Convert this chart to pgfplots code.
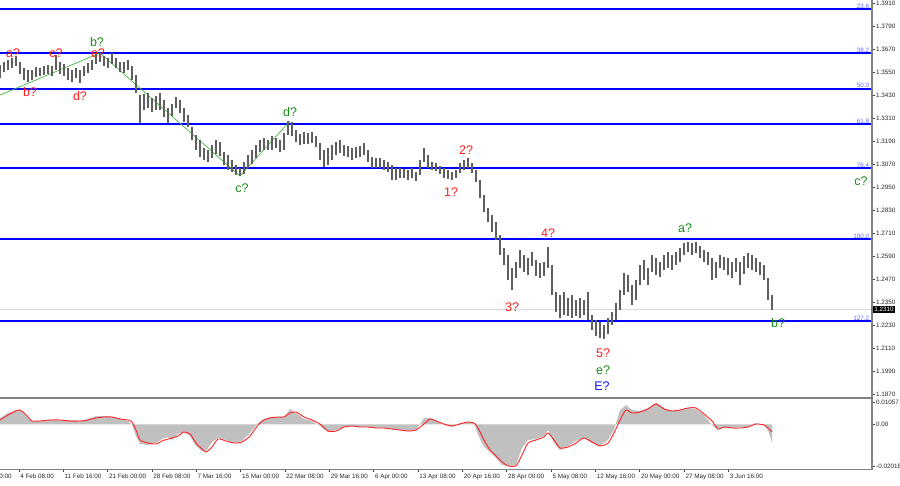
\documentclass[border=0pt]{standalone}
\usepackage{pgfplots}
\usepackage{pgfplotstable}
\pgfplotsset{compat=1.18}
\usepackage{fontspec}
\setmainfont{Liberation Sans}
\definecolor{barcol}{RGB}{95,95,95}
\definecolor{fibblue}{RGB}{0,0,255}
\definecolor{fibtxt}{RGB}{100,100,255}
\definecolor{wred}{RGB}{255,30,30}
\definecolor{wgreen}{RGB}{25,140,25}
\definecolor{wblue}{RGB}{20,20,255}
\definecolor{zig}{RGB}{70,180,70}
\definecolor{histgray}{RGB}{192,192,192}
\definecolor{sigred}{RGB}{255,35,35}
\definecolor{framec}{RGB}{130,130,130}
\newcommand{\tk}{\fontsize{6.3}{7}\selectfont}
\newcommand{\wl}{\fontsize{12.5}{13}\selectfont}

\pgfplotstableread{
x hi lo
0 1.3586 1.3518
4 1.3602 1.3549
8 1.3612 1.3560
12 1.3622 1.3570
16 1.3633 1.3581
20 1.3602 1.3539
24 1.3570 1.3508
28 1.3560 1.3497
32 1.3560 1.3508
36 1.3575 1.3523
40 1.3570 1.3529
44 1.3581 1.3534
48 1.3586 1.3539
52 1.3581 1.3529
56 1.3638 1.3560
60 1.3602 1.3539
64 1.3591 1.3529
68 1.3570 1.3508
72 1.3560 1.3497
76 1.3570 1.3518
80 1.3560 1.3492
84 1.3581 1.3529
88 1.3596 1.3544
92 1.3612 1.3560
96 1.3649 1.3591
100 1.3649 1.3602
104 1.3633 1.3581
108 1.3622 1.3570
112 1.3649 1.3591
116 1.3622 1.3570
120 1.3602 1.3549
124 1.3602 1.3544
128 1.3612 1.3560
132 1.3581 1.3508
136 1.3534 1.3440
140 1.3429 1.3283
144 1.3435 1.3351
148 1.3440 1.3362
152 1.3414 1.3341
156 1.3424 1.3351
160 1.3440 1.3351
164 1.3403 1.3315
168 1.3362 1.3283
172 1.3383 1.3320
176 1.3419 1.3362
180 1.3403 1.3336
184 1.3362 1.3289
188 1.3325 1.3262
192 1.3262 1.3195
196 1.3221 1.3143
200 1.3195 1.3106
204 1.3153 1.3090
208 1.3143 1.3080
212 1.3169 1.3101
216 1.3195 1.3122
220 1.3184 1.3111
224 1.3132 1.3064
228 1.3116 1.3038
232 1.3090 1.3028
236 1.3064 1.3012
240 1.3049 1.3007
244 1.3080 1.3018
248 1.3116 1.3049
252 1.3143 1.3070
256 1.3169 1.3101
260 1.3195 1.3132
264 1.3205 1.3143
268 1.3195 1.3143
272 1.3216 1.3143
276 1.3205 1.3153
280 1.3195 1.3132
284 1.3231 1.3143
288 1.3294 1.3221
292 1.3289 1.3216
296 1.3247 1.3184
300 1.3226 1.3169
304 1.3236 1.3174
308 1.3231 1.3174
312 1.3236 1.3179
316 1.3216 1.3158
320 1.3179 1.3090
324 1.3143 1.3054
328 1.3153 1.3064
332 1.3169 1.3090
336 1.3184 1.3116
340 1.3195 1.3127
344 1.3169 1.3111
348 1.3163 1.3106
352 1.3153 1.3090
356 1.3158 1.3101
360 1.3163 1.3106
364 1.3179 1.3116
368 1.3143 1.3080
372 1.3106 1.3049
376 1.3101 1.3049
380 1.3101 1.3049
384 1.3090 1.3038
388 1.3080 1.3028
392 1.3064 1.2986
396 1.3049 1.2986
400 1.3049 1.2996
404 1.3043 1.2996
408 1.3038 1.2986
412 1.3049 1.2996
416 1.3028 1.2981
420 1.3090 1.3012
424 1.3153 1.3080
428 1.3116 1.3049
432 1.3080 1.3038
436 1.3075 1.3033
440 1.3059 1.3018
444 1.3049 1.2996
448 1.3038 1.2991
452 1.3028 1.2986
456 1.3038 1.2996
460 1.3075 1.3023
464 1.3090 1.3038
468 1.3101 1.3049
472 1.3075 1.3023
476 1.3038 1.2976
480 1.2986 1.2892
484 1.2908 1.2819
488 1.2840 1.2767
492 1.2803 1.2715
496 1.2767 1.2673
500 1.2699 1.2595
504 1.2631 1.2543
508 1.2595 1.2464
512 1.2527 1.2412
516 1.2558 1.2475
520 1.2621 1.2527
524 1.2595 1.2506
528 1.2579 1.2490
532 1.2610 1.2537
536 1.2569 1.2485
540 1.2553 1.2475
544 1.2558 1.2485
548 1.2637 1.2527
552 1.2543 1.2386
556 1.2402 1.2297
560 1.2386 1.2266
564 1.2402 1.2282
568 1.2370 1.2277
572 1.2386 1.2266
576 1.2360 1.2277
580 1.2370 1.2266
584 1.2360 1.2282
588 1.2402 1.2256
592 1.2282 1.2204
596 1.2256 1.2172
600 1.2245 1.2162
604 1.2230 1.2157
608 1.2266 1.2183
612 1.2297 1.2230
616 1.2344 1.2256
620 1.2412 1.2308
624 1.2501 1.2386
628 1.2490 1.2402
632 1.2438 1.2334
636 1.2464 1.2360
640 1.2543 1.2438
644 1.2569 1.2464
648 1.2527 1.2438
652 1.2595 1.2506
656 1.2579 1.2490
660 1.2558 1.2480
664 1.2595 1.2517
668 1.2610 1.2527
672 1.2595 1.2517
676 1.2610 1.2543
680 1.2631 1.2558
684 1.2657 1.2595
688 1.2663 1.2610
692 1.2657 1.2595
696 1.2663 1.2605
700 1.2642 1.2579
704 1.2621 1.2558
708 1.2610 1.2543
712 1.2579 1.2464
716 1.2558 1.2475
720 1.2595 1.2527
724 1.2584 1.2517
728 1.2579 1.2490
732 1.2558 1.2475
736 1.2579 1.2506
740 1.2558 1.2438
744 1.2590 1.2496
748 1.2605 1.2527
752 1.2595 1.2517
756 1.2579 1.2506
760 1.2558 1.2490
764 1.2543 1.2464
768 1.2475 1.2360
772 1.2386 1.2308
}\pricetab

\pgfplotstableread{
x h s
0 0.00309 0.00212
8 0.00550 0.00454
16 0.00695 0.00647
20 0.00695 0.00695
24 0.00502 0.00550
28 0.00309 0.00357
32 0.00164 0.00164
40 0.00164 0.00164
50 0.00212 0.00212
60 0.00212 0.00212
70 0.00212 0.00164
80 0.00164 0.00164
88 0.00261 0.00212
96 0.00405 0.00309
104 0.00405 0.00357
112 0.00357 0.00357
120 0.00261 0.00261
128 0.00164 0.00212
132 -0.00029 0.00116
136 -0.00560 -0.00270
140 -0.00946 -0.00753
148 -0.00994 -0.00898
156 -0.00898 -0.00946
162 -0.00705 -0.00801
168 -0.00608 -0.00705
172 -0.00753 -0.00656
178 -0.00463 -0.00560
184 -0.00367 -0.00367
190 -0.00560 -0.00463
196 -0.01043 -0.00898
202 -0.01284 -0.01187
206 -0.01284 -0.01332
212 -0.00850 -0.01091
218 -0.00656 -0.00705
226 -0.00753 -0.00801
234 -0.00898 -0.00898
242 -0.00801 -0.00850
250 -0.00415 -0.00560
258 0.00068 -0.00029
264 0.00261 0.00212
270 0.00357 0.00309
278 0.00357 0.00357
284 0.00357 0.00357
290 0.00743 0.00550
296 0.00550 0.00599
304 0.00261 0.00357
312 0.00164 0.00212
320 -0.00077 0.00019
328 -0.00367 -0.00319
336 -0.00270 -0.00319
344 -0.00126 -0.00126
352 -0.00077 -0.00077
360 -0.00126 -0.00126
368 -0.00126 -0.00126
376 -0.00174 -0.00174
384 -0.00174 -0.00174
392 -0.00222 -0.00222
400 -0.00270 -0.00270
408 -0.00319 -0.00319
416 -0.00270 -0.00270
424 0.00309 0.00019
430 0.00309 0.00261
436 0.00212 0.00164
444 -0.00029 0.00019
452 -0.00126 -0.00077
460 0.00068 0.00019
468 0.00116 0.00116
474 0.00068 0.00068
478 -0.00512 -0.00174
484 -0.01091 -0.00753
490 -0.01332 -0.01236
496 -0.01622 -0.01525
502 -0.01960 -0.01815
508 -0.02018 -0.02000
516 -0.01960 -0.02000
522 -0.01139 -0.01477
528 -0.00753 -0.00898
536 -0.00705 -0.00753
544 -0.00560 -0.00608
548 -0.00270 -0.00415
554 -0.00898 -0.00753
560 -0.01236 -0.01139
568 -0.01043 -0.01091
576 -0.00801 -0.00898
584 -0.00656 -0.00656
592 -0.00898 -0.00850
600 -0.01043 -0.01043
608 -0.00753 -0.00898
614 -0.00270 -0.00415
620 0.00695 0.00212
626 0.00936 0.00695
632 0.00695 0.00550
640 0.00647 0.00599
648 0.00792 0.00743
656 0.01057 0.00985
664 0.00792 0.00743
672 0.00647 0.00647
680 0.00695 0.00695
688 0.00792 0.00792
696 0.00743 0.00792
704 0.00454 0.00502
712 -0.00029 0.00164
718 -0.00270 -0.00222
724 -0.00126 -0.00126
732 -0.00174 -0.00174
740 -0.00126 -0.00174
748 -0.00126 -0.00126
756 0.00068 0.00019
764 -0.00029 -0.00029
768 -0.00270 -0.00174
772 -0.00898 -0.00367
}\indtab

\begin{document}
\begin{tikzpicture}
% ---------------- main price panel ----------------
\begin{axis}[
  at={(-30pt,-397pt)}, anchor=south west, scale only axis,
  width=902pt, height=397pt,
  xmin=-30, xmax=872, ymin=1.18540, ymax=1.39253,
  axis line style={draw=none}, clip=false,
  xtick=\empty, scaled y ticks=false,
  ytick={1.1870,1.1990,1.2110,1.2230,1.2350,1.2470,1.2590,1.2710,1.2830,1.2950,1.3070,1.3190,1.3310,1.3430,1.3550,1.3670,1.3790,1.3910},
  yticklabels={1.1870,1.1990,1.2110,1.2230,1.2350,1.2470,1.2590,1.2710,1.2830,1.2950,1.3070,1.3190,1.3310,1.3430,1.3550,1.3670,1.3790,1.3910},
  ytick pos=right, tick align=outside, major tick length=2.5pt,
  tick style={black!75, line width=0.6pt},
  yticklabel style={font=\tk, anchor=west, inner sep=1pt, xshift=0.5pt, text=black!85},
]
% Fibonacci levels
\addplot[fibblue, line width=1.8pt] coordinates {(0,1.3877) (872,1.3877)};
\addplot[fibblue, line width=1.8pt] coordinates {(0,1.3648) (872,1.3648)};
\addplot[fibblue, line width=1.8pt] coordinates {(0,1.3463) (872,1.3463)};
\addplot[fibblue, line width=1.8pt] coordinates {(0,1.3277) (872,1.3277)};
\addplot[fibblue, line width=1.8pt] coordinates {(0,1.3048) (872,1.3048)};
\addplot[fibblue, line width=1.8pt] coordinates {(0,1.2677) (872,1.2677)};
\addplot[fibblue, line width=1.8pt] coordinates {(0,1.2250) (872,1.2250)};
% bid line
\addplot[black!15, line width=1pt] coordinates {(0,1.2310) (872,1.2310)};
% zigzag
\addplot[zig, line width=0.7pt] coordinates {(0,1.3429) (100,1.3649) (240,1.3007) (290,1.3294)};
% price bars (high-low)
\addplot[draw=none, mark=none,
  error bars/.cd, y dir=plus, y explicit, error mark=none,
  error bar style={draw=barcol, solid, line width=2.3pt}]
  table[x=x, y=lo, y error expr=\thisrow{hi}-\thisrow{lo}] {\pricetab};
% fib labels
\node[anchor=south east, font=\tk, text=fibtxt, inner sep=0.6pt] at (axis cs:870,1.3877) {23.6};
\node[anchor=south east, font=\tk, text=fibtxt, inner sep=0.6pt] at (axis cs:870,1.3648) {38.2};
\node[anchor=south east, font=\tk, text=fibtxt, inner sep=0.6pt] at (axis cs:870,1.3463) {50.0};
\node[anchor=south east, font=\tk, text=fibtxt, inner sep=0.6pt] at (axis cs:870,1.3277) {61.8};
\node[anchor=south east, font=\tk, text=fibtxt, inner sep=0.6pt] at (axis cs:870,1.3048) {76.4};
\node[anchor=south east, font=\tk, text=fibtxt, inner sep=0.6pt] at (axis cs:870,1.2677) {100.0};
\node[anchor=south east, font=\tk, text=fibtxt, inner sep=0.6pt] at (axis cs:870,1.2250) {127.2};
% wave labels
\node[font=\wl, text=wred] at (axis cs:13,1.3649) {a?};
\node[font=\wl, text=wred] at (axis cs:30,1.3445) {b?};
\node[font=\wl, text=wred] at (axis cs:56,1.3649) {c?};
\node[font=\wl, text=wred] at (axis cs:80,1.3424) {d?};
\node[font=\wl, text=wred] at (axis cs:98,1.3649) {e?};
\node[font=\wl, text=wgreen] at (axis cs:97,1.3706) {b?};
\node[font=\wl, text=wgreen] at (axis cs:242,1.2944) {c?};
\node[font=\wl, text=wgreen] at (axis cs:290,1.3341) {d?};
\node[font=\wl, text=wred] at (axis cs:451,1.2923) {1?};
\node[font=\wl, text=wred] at (axis cs:466,1.3143) {2?};
\node[font=\wl, text=wred] at (axis cs:512,1.2324) {3?};
\node[font=\wl, text=wred] at (axis cs:548,1.2710) {4?};
\node[font=\wl, text=wred] at (axis cs:603,1.2084) {5?};
\node[font=\wl, text=wgreen] at (axis cs:603,1.1995) {e?};
\node[font=\wl, text=wblue] at (axis cs:602,1.1912) {E?};
\node[font=\wl, text=wgreen] at (axis cs:685,1.2736) {a?};
\node[font=\wl, text=wgreen] at (axis cs:778,1.2240) {b?};
\node[font=\wl, text=wgreen] at (axis cs:861,1.2981) {c?};
\coordinate (tag) at (axis cs:872,1.2310);
\end{axis}
% ---------------- indicator panel ----------------
\begin{axis}[
  at={(-30pt,-469pt)}, anchor=south west, scale only axis,
  width=902pt, height=71pt,
  xmin=-30, xmax=872, ymin=-0.02153, ymax=0.01274,
  axis line style={draw=none}, clip=false,
  scaled y ticks=false, scaled x ticks=false,
  ytick={-0.02018,0,0.01057},
  yticklabels={-0.02018,0.00,0.01057},
  ytick pos=right, xtick pos=bottom, tick align=outside, major tick length=2.5pt,
  tick style={black!75, line width=0.6pt},
  yticklabel style={font=\tk, anchor=west, inner sep=1pt, xshift=0.5pt, text=black!85},
  xtick={-26.4,18.8,63.15,107.5,151.85,196.2,240.55,284.9,329.25,373.6,417.95,462.3,506.65,551.0,595.35,639.7,684.05,728.4},
  xticklabels={28 Jan 00:00,4 Feb 08:00,11 Feb 16:00,21 Feb 00:00,28 Feb 08:00,7 Mar 16:00,15 Mar 00:00,22 Mar 08:00,29 Mar 16:00,6 Apr 00:00,13 Apr 08:00,20 Apr 16:00,28 Apr 00:00,5 May 08:00,12 May 16:00,20 May 00:00,27 May 08:00,3 Jun 16:00},
  xticklabel style={font=\tk, anchor=north west, inner sep=1pt, xshift=0.3pt, yshift=-1.5pt, text=black!85},
]
\addplot[fill=histgray, draw=none] table[x=x, y=h] {\indtab} \closedcycle;
\addplot[sigred, line width=0.9pt, smooth, tension=0.4] table[x=x, y=s] {\indtab};
\end{axis}
% frame lines
\draw[framec, line width=1.6pt] (0pt,-397.8pt) -- (872pt,-397.8pt);
\draw[framec, line width=1.2pt] (0pt,-469.5pt) -- (872pt,-469.5pt);
\draw[framec, line width=1.4pt] (872pt,0pt) -- (872pt,-470pt);
\node[fill=black, text=white, font=\tk, anchor=west, inner sep=1.2pt] at ([xshift=1pt]tag) {1.2310};
\pgfresetboundingbox
\path[use as bounding box] (0pt,0pt) rectangle (900pt,-485pt);
\end{tikzpicture}
\end{document}
